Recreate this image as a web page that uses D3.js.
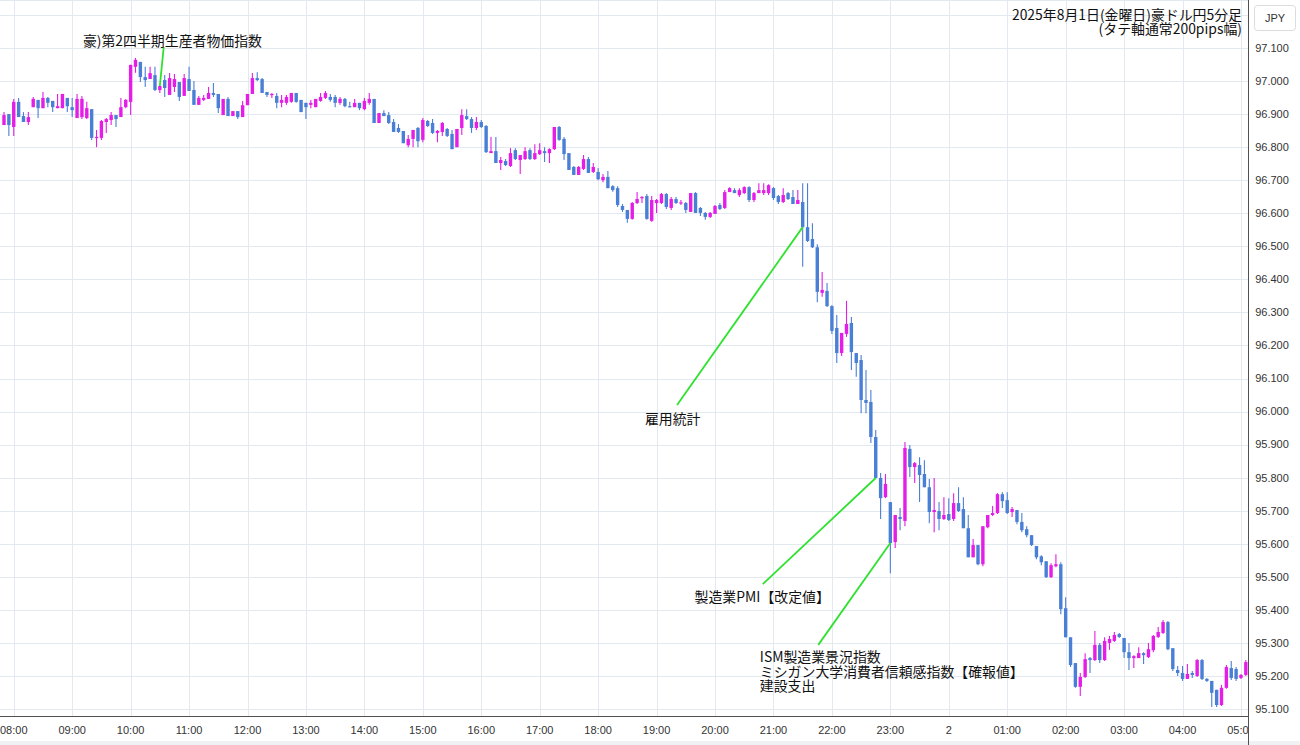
<!DOCTYPE html>
<html><head><meta charset="utf-8">
<script src="https://cdn.jsdelivr.net/npm/d3@7/dist/d3.min.js"></script>
<style>
html,body{margin:0;padding:0;background:#fff;}
svg{display:block;}
</style>
</head><body>
<svg id="chart" width="1300" height="745"></svg>
<script>
// ---------------- DATA ----------------
const startTime = "2025-08-01 07:50";   // first candle
const stepMinutes = 5;                   // 5-minute candles

const opens = [
96.867,96.900,96.861,96.937,96.894,96.876,96.921,96.943,96.918,96.949,96.940,96.918,
96.918,96.949,96.921,96.888,96.891,96.888,96.915,96.828,96.828,96.876,96.882,96.897,
96.891,96.921,96.937,97.043,97.058,97.012,97.006,97.018,96.973,97.003,96.958,96.982,
96.997,96.955,97.006,96.973,96.928,96.943,96.946,96.964,96.961,96.897,96.946,96.894,
96.909,96.891,96.927,96.961,97.009,97.006,96.967,96.958,96.955,96.934,96.934,96.937,
96.964,96.943,96.934,96.928,96.921,96.940,96.949,96.952,96.952,96.934,96.946,96.924,
96.921,96.934,96.915,96.934,96.946,96.873,96.903,96.897,96.876,96.858,96.849,96.806,
96.825,96.858,96.822,96.879,96.873,96.843,96.846,96.855,96.840,96.800,96.858,96.894,
96.885,96.858,96.876,96.864,96.782,96.788,96.752,96.758,96.743,96.791,96.761,96.764,
96.791,96.764,96.779,96.788,96.782,96.794,96.861,96.825,96.782,96.740,96.716,96.734,
96.764,96.725,96.725,96.700,96.710,96.682,96.676,96.622,96.610,96.583,96.631,96.646,
96.652,96.577,96.631,96.631,96.658,96.616,96.643,96.630,96.631,96.604,96.661,96.616,
96.601,96.589,96.598,96.625,96.616,96.664,96.670,96.655,96.661,96.679,96.640,96.661,
96.661,96.661,96.676,96.652,96.634,96.661,96.649,96.628,96.634,96.558,96.522,96.497,
96.359,96.365,96.319,96.253,96.177,96.235,96.268,96.177,96.156,96.035,96.029,95.923,
95.799,95.741,95.726,95.605,95.681,95.669,95.887,95.832,95.838,95.811,95.771,95.696,
95.699,95.675,95.690,95.675,95.723,95.705,95.647,95.559,95.596,95.538,95.650,95.687,
95.693,95.750,95.732,95.696,95.702,95.666,95.644,95.626,95.593,95.562,95.547,95.499,
95.532,95.538,95.405,95.317,95.239,95.167,95.197,95.254,95.248,95.294,95.248,95.300,
95.306,95.327,95.315,95.272,95.254,95.254,95.269,95.257,95.278,95.318,95.330,95.363,
95.284,95.218,95.209,95.191,95.209,95.200,95.248,95.191,95.185,95.158,95.112,95.164,
95.224,95.221,95.194,95.203
];
const highs = [
96.906,96.900,96.946,96.949,96.906,96.906,96.952,96.943,96.967,96.952,96.940,96.961,
96.961,96.949,96.949,96.961,96.955,96.937,96.915,96.852,96.882,96.888,96.906,96.897,
96.949,96.946,97.049,97.070,97.058,97.043,97.043,97.043,96.985,97.018,97.024,97.021,
96.997,97.021,97.043,97.000,96.955,96.958,96.982,96.994,96.961,96.946,96.952,96.909,
96.909,96.940,96.961,97.024,97.027,97.009,96.967,96.964,96.964,96.958,96.958,96.964,
96.964,96.943,96.934,96.943,96.946,96.964,96.970,96.961,96.958,96.952,96.949,96.937,
96.946,96.934,96.949,96.964,96.946,96.903,96.912,96.906,96.885,96.870,96.849,96.837,
96.852,96.861,96.888,96.882,96.885,96.852,96.876,96.858,96.852,96.855,96.915,96.915,
96.891,96.891,96.882,96.867,96.831,96.831,96.770,96.764,96.797,96.797,96.776,96.800,
96.797,96.809,96.812,96.800,96.797,96.861,96.864,96.831,96.782,96.743,96.743,96.776,
96.770,96.752,96.737,96.719,96.728,96.685,96.682,96.628,96.610,96.634,96.664,96.652,
96.658,96.652,96.643,96.661,96.661,96.649,96.649,96.640,96.634,96.661,96.664,96.619,
96.604,96.604,96.625,96.631,96.670,96.679,96.676,96.676,96.682,96.682,96.664,96.691,
96.691,96.688,96.679,96.655,96.676,96.664,96.670,96.670,96.691,96.691,96.570,96.506,
96.422,96.389,96.322,96.292,96.238,96.335,96.286,96.177,96.171,96.126,96.065,95.944,
95.814,95.811,95.726,95.687,95.708,95.908,95.899,95.847,95.862,95.853,95.796,95.799,
95.726,95.741,95.738,95.753,95.771,95.741,95.687,95.614,95.596,95.653,95.687,95.714,
95.753,95.756,95.756,95.711,95.702,95.693,95.653,95.626,95.593,95.565,95.547,95.541,
95.568,95.544,95.438,95.317,95.239,95.209,95.269,95.257,95.336,95.300,95.317,95.321,
95.333,95.330,95.315,95.300,95.263,95.287,95.272,95.300,95.324,95.348,95.369,95.366,
95.284,95.230,95.230,95.236,95.215,95.251,95.251,95.194,95.185,95.158,95.173,95.233,
95.245,95.227,95.206,95.248
];
const lows = [
96.867,96.834,96.834,96.891,96.876,96.867,96.921,96.888,96.918,96.921,96.906,96.918,
96.918,96.906,96.891,96.888,96.885,96.885,96.822,96.800,96.822,96.843,96.867,96.861,
96.891,96.918,96.897,97.025,96.997,96.982,97.006,96.970,96.964,96.952,96.958,96.967,
96.940,96.955,96.970,96.928,96.928,96.940,96.946,96.952,96.903,96.897,96.894,96.894,
96.885,96.891,96.927,96.961,97.000,96.964,96.952,96.949,96.918,96.921,96.928,96.934,
96.934,96.906,96.885,96.918,96.921,96.937,96.946,96.937,96.921,96.928,96.921,96.921,
96.921,96.912,96.912,96.928,96.873,96.873,96.894,96.870,96.846,96.843,96.812,96.800,
96.800,96.800,96.815,96.861,96.840,96.815,96.834,96.831,96.794,96.800,96.837,96.882,
96.843,96.852,96.858,96.782,96.782,96.752,96.731,96.743,96.740,96.761,96.719,96.761,
96.761,96.761,96.776,96.755,96.752,96.791,96.819,96.761,96.731,96.716,96.716,96.731,
96.722,96.722,96.700,96.694,96.676,96.665,96.619,96.604,96.571,96.580,96.628,96.631,
96.580,96.574,96.601,96.628,96.613,96.610,96.628,96.625,96.601,96.604,96.601,96.592,
96.580,96.586,96.598,96.610,96.613,96.664,96.661,96.649,96.658,96.634,96.634,96.661,
96.655,96.655,96.640,96.628,96.631,96.640,96.628,96.628,96.438,96.513,96.495,96.331,
96.347,96.316,96.235,96.147,96.168,96.226,96.126,96.105,95.995,95.995,95.905,95.799,
95.675,95.738,95.511,95.587,95.641,95.653,95.802,95.784,95.726,95.771,95.662,95.635,
95.641,95.672,95.669,95.669,95.696,95.647,95.559,95.559,95.535,95.532,95.647,95.684,
95.690,95.708,95.690,95.681,95.659,95.635,95.620,95.593,95.553,95.535,95.496,95.496,
95.529,95.387,95.317,95.227,95.164,95.139,95.194,95.209,95.245,95.239,95.245,95.279,
95.303,95.315,95.254,95.218,95.224,95.254,95.236,95.254,95.272,95.315,95.327,95.278,
95.215,95.200,95.185,95.191,95.194,95.197,95.188,95.182,95.106,95.106,95.109,95.161,
95.188,95.185,95.191,95.200
];
const closes = [
96.897,96.867,96.937,96.891,96.876,96.891,96.946,96.918,96.949,96.934,96.921,96.924,
96.961,96.924,96.912,96.946,96.946,96.918,96.828,96.831,96.879,96.885,96.897,96.885,
96.921,96.943,97.049,97.064,97.012,97.003,97.024,96.973,96.985,96.979,97.009,97.006,
96.952,97.009,96.970,96.928,96.949,96.949,96.964,96.958,96.918,96.946,96.894,96.909,
96.891,96.927,96.961,97.009,97.003,96.964,96.958,96.961,96.934,96.943,96.952,96.964,
96.937,96.906,96.921,96.934,96.946,96.952,96.964,96.943,96.934,96.946,96.924,96.921,
96.934,96.918,96.940,96.946,96.873,96.903,96.894,96.873,96.846,96.846,96.812,96.825,
96.852,96.818,96.882,96.864,96.843,96.849,96.873,96.834,96.794,96.855,96.897,96.885,
96.858,96.876,96.861,96.785,96.788,96.752,96.761,96.746,96.782,96.764,96.776,96.788,
96.764,96.782,96.791,96.782,96.794,96.861,96.822,96.779,96.731,96.716,96.740,96.764,
96.722,96.740,96.703,96.710,96.676,96.670,96.625,96.610,96.583,96.631,96.643,96.649,
96.583,96.640,96.640,96.658,96.619,96.643,96.631,96.633,96.610,96.661,96.601,96.601,
96.589,96.601,96.622,96.613,96.664,96.676,96.661,96.670,96.679,96.640,96.661,96.670,
96.670,96.685,96.646,96.634,96.655,96.643,96.628,96.640,96.558,96.516,96.497,96.362,
96.368,96.319,96.244,96.177,96.238,96.265,96.180,96.147,96.035,96.026,95.923,95.799,
95.738,95.781,95.602,95.687,95.675,95.890,95.832,95.844,95.808,95.771,95.696,95.702,
95.675,95.687,95.672,95.723,95.699,95.647,95.559,95.596,95.538,95.653,95.687,95.693,
95.750,95.729,95.693,95.705,95.666,95.641,95.626,95.596,95.559,95.544,95.499,95.535,
95.538,95.402,95.317,95.233,95.167,95.197,95.251,95.248,95.294,95.248,95.306,95.312,
95.324,95.318,95.272,95.254,95.260,95.269,95.263,95.281,95.321,95.333,95.363,95.281,
95.221,95.209,95.191,95.206,95.203,95.248,95.191,95.185,95.149,95.112,95.164,95.227,
95.194,95.191,95.203,95.242
];

const yTickValues = [95.1,95.2,95.3,95.4,95.5,95.6,95.7,95.8,95.9,96.0,96.1,96.2,96.3,96.4,96.5,96.6,96.7,96.8,96.9,97.0,97.1];
const yGridValues = [95.1,95.2,95.3,95.4,95.5,95.6,95.7,95.8,95.9,96.0,96.1,96.2,96.3,96.4,96.5,96.6,96.7,96.8,96.9,97.0,97.1,97.2];
const currencyLabel = "JPY";
const titleLines = ["2025年8月1日(金曜日)豪ドル円5分足", "(タテ軸通常200pips幅)"];

// annotations: text, the candle the event points at, where text / leader start sit (in data space)
const annotations = [
  {lines:["豪)第2四半期生産者物価指数"], event:"2025-08-01 10:30",
   textAt:["2025-08-01 09:11", 97.106], lineFrom:["2025-08-01 10:34", 97.103]},
  {lines:["雇用統計"], event:"2025-08-01 21:30",
   textAt:["2025-08-01 18:48", 95.962], lineFrom:["2025-08-01 19:21", 96.020]},
  {lines:["製造業PMI【改定値】"], event:"2025-08-01 22:45",
   textAt:["2025-08-01 19:39", 95.424], lineFrom:["2025-08-01 20:49", 95.478]},
  {lines:["ISM製造業景況指数","ミシガン大学消費者信頼感指数【確報値】","建設支出"], event:"2025-08-01 23:00",
   textAt:["2025-08-01 20:46", 95.242], lineFrom:["2025-08-01 21:46", 95.294]}
];

// ---------------- LAYOUT ----------------
const W = 1300, H = 745;
const plotRight = 1248, axisY = 716;
const candleStep = 4.87;
const upColor = "#e41ee6", downColor = "#4a7fd6";
const gridColor = "#e3e9f0", axisColor = "#505050";
const lineGreen = "#2fe12f";
const jpFont = "'Noto Sans CJK JP','Noto Sans',sans-serif";
const axFont = "'Liberation Sans',Arial,sans-serif";
const jpSize = 13.9;

const parse = d3.timeParse("%Y-%m-%d %H:%M");
const t0 = parse(startTime);
const candles = opens.map((o,i)=>({
  t: d3.timeMinute.offset(t0, i*stepMinutes),
  o, h: highs[i], l: lows[i], c: closes[i]
}));
const tEnd = candles[candles.length-1].t;

const x = d3.scaleTime().domain([t0, tEnd]).range([4, 4 + (candles.length-1)*candleStep]);
const y = d3.scaleLinear().domain([95.1, 97.1]).range([709, 48]);

const svg = d3.select("#chart");
svg.append("rect").attr("width",W).attr("height",H).attr("fill","#fff");

const defs = svg.append("defs");
defs.append("clipPath").attr("id","plotClip").append("rect")
  .attr("x",0).attr("y",0).attr("width",plotRight).attr("height",axisY);
defs.append("clipPath").attr("id","xLabClip").append("rect")
  .attr("x",0).attr("y",axisY).attr("width",plotRight).attr("height",H-axisY);

// bottom light band
svg.append("rect").attr("x",0).attr("y",741).attr("width",W).attr("height",4).attr("fill","#f0f1f3");

// grid
const plot = svg.append("g").attr("clip-path","url(#plotClip)");
const hourTicks = d3.timeHour.range(d3.timeHour.ceil(t0), d3.timeMinute.offset(tEnd,1));
plot.append("g").selectAll("line").data(yGridValues).join("line")
  .attr("x1",0).attr("x2",plotRight)
  .attr("y1",d=>Math.round(y(d))+0.5).attr("y2",d=>Math.round(y(d))+0.5)
  .attr("stroke",gridColor).attr("stroke-width",1);
plot.append("g").selectAll("line").data(hourTicks).join("line")
  .attr("x1",d=>Math.round(x(d))+0.5).attr("x2",d=>Math.round(x(d))+0.5)
  .attr("y1",0).attr("y2",axisY)
  .attr("stroke",gridColor).attr("stroke-width",1);
plot.append("line").attr("x1",0).attr("x2",plotRight).attr("y1",0.5).attr("y2",0.5)
  .attr("stroke",gridColor);

// candles
const bodyW = 3.4;
const cg = plot.append("g");
cg.selectAll("line.wick").data(candles).join("line").attr("class","wick")
  .attr("x1",d=>x(d.t)).attr("x2",d=>x(d.t))
  .attr("y1",d=>y(d.h)).attr("y2",d=>y(d.l))
  .attr("stroke",d=>d.c>=d.o?upColor:downColor).attr("stroke-width",1.1);
cg.selectAll("rect.body").data(candles).join("rect").attr("class","body")
  .attr("x",d=>x(d.t)-bodyW/2).attr("width",bodyW)
  .attr("y",d=>y(Math.max(d.o,d.c)))
  .attr("height",d=>Math.max(1.2, Math.abs(y(d.o)-y(d.c))))
  .attr("fill",d=>d.c>=d.o?upColor:downColor);

// annotations
const ag = plot.append("g");
annotations.forEach(a=>{
  const ev = candles.find(c=>+c.t===+parse(a.event));
  ag.append("line")
    .attr("x1",x(parse(a.lineFrom[0]))).attr("y1",y(a.lineFrom[1]))
    .attr("x2",x(ev.t)).attr("y2",y(ev.c))
    .attr("stroke",lineGreen).attr("stroke-width",1.8);
  const tx = x(parse(a.textAt[0])), ty = y(a.textAt[1]);
  const txt = ag.append("text").attr("x",tx).attr("y",ty)
    .attr("font-family",jpFont).attr("font-size",jpSize).attr("fill","#111");
  a.lines.forEach((ln,i)=>{
    txt.append("tspan").attr("x",tx).attr("dy",i===0?0:14.5).text(ln);
  });
});

// title
const tt = svg.append("text").attr("x",1242).attr("y",20).attr("text-anchor","end")
  .attr("font-family",jpFont).attr("font-size",jpSize).attr("fill","#111");
titleLines.forEach((ln,i)=>tt.append("tspan").attr("x",1242).attr("dy",i===0?0:14).text(ln));

// axes lines
svg.append("line").attr("x1",0).attr("x2",plotRight).attr("y1",axisY+0.5).attr("y2",axisY+0.5)
  .attr("stroke",axisColor).attr("stroke-width",1);
svg.append("line").attr("x1",plotRight+0.5).attr("x2",plotRight+0.5).attr("y1",0).attr("y2",H)
  .attr("stroke",axisColor).attr("stroke-width",1);

// y labels
svg.append("g").selectAll("text").data(yTickValues).join("text")
  .attr("x",1272).attr("y",d=>y(d)).attr("dy","0.35em").attr("text-anchor","middle")
  .attr("font-family",axFont).attr("font-size",11).attr("fill","#333")
  .text(d=>d3.format(".3f")(d));

// x labels
const fmtH = d3.timeFormat("%H:%M"), fmtD = d3.timeFormat("%-d");
svg.append("g").attr("clip-path","url(#xLabClip)").selectAll("text").data(hourTicks).join("text")
  .attr("x",d=>x(d)).attr("y",730).attr("dy","0.35em").attr("text-anchor","middle")
  .attr("font-family",axFont).attr("font-size",11).attr("fill","#333")
  .text(d=>d.getHours()===0?fmtD(d):fmtH(d));

// currency box
svg.append("rect").attr("x",1254.5).attr("y",5.5).attr("width",41).attr("height",25).attr("rx",3)
  .attr("fill","#fff").attr("stroke","#dcdcdc");
svg.append("text").attr("x",1275).attr("y",18).attr("dy","0.35em").attr("text-anchor","middle")
  .attr("font-family",axFont).attr("font-size",11).attr("fill","#333").text(currencyLabel);
</script>
</body></html>
